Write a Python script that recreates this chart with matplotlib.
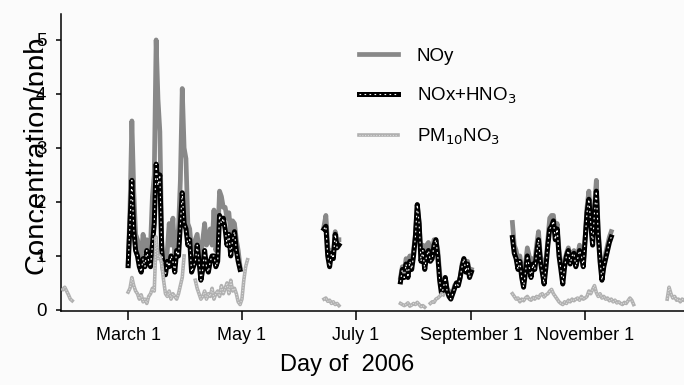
import matplotlib
matplotlib.use("Agg")
import matplotlib.pyplot as plt
from matplotlib.transforms import Bbox, TransformedBbox
import numpy as np

plt.rcParams['font.family'] = ['Liberation Sans', 'DejaVu Sans']

# daily values (ppb), one list per run of measurements; first day of year of each run
gas_starts = [60, 165, 206, 266]
noy_runs = [
    [0.85, 1.9, 3.5, 2.2, 1.4, 1.3, 1.1, 1.0, 1.4, 1.1, 1.3, 1.0, 1.2, 2.1, 2.5, 5.0,
     3.9, 3.3, 1.3, 0.8, 0.75, 1.1, 1.6, 1.2, 1.7, 1.0, 1.3, 1.5, 2.4, 4.1, 3.0, 2.8,
     1.6, 1.5, 1.1, 1.2, 1.3, 1.4, 1.1, 1.0, 1.3, 1.6, 1.2, 1.3, 1.5, 1.2, 1.85, 1.1,
     1.3, 2.2, 2.1, 1.9, 1.9, 1.7, 1.8, 1.4, 1.65, 1.6, 1.3, 1.1, 0.8],
    [1.55, 1.75, 1.2, 0.9, 1.1, 1.05, 1.45, 1.3, 1.3],
    [0.6, 0.8, 0.7, 0.95, 0.9, 1.0, 0.85, 1.1, 1.4, 1.95, 1.6, 0.95, 1.2, 0.85, 1.2,
     1.25, 1.0, 1.05, 1.3, 1.3, 1.1, 0.7, 0.35, 0.5, 0.6, 0.4, 0.35, 0.3, 0.3, 0.45,
     0.5, 0.5, 0.6, 0.85, 0.95, 0.75, 0.9, 0.65, 0.75],
    [1.62, 1.2, 1.1, 0.9, 1.0, 0.75, 0.5, 0.85, 1.15, 1.0, 0.85, 0.95, 0.9, 1.2, 1.45,
     1.0, 0.9, 0.6, 0.9, 1.3, 1.7, 1.75, 1.75, 1.4, 1.6, 1.1, 0.85, 0.6, 0.9, 1.05,
     1.15, 0.95, 1.05, 1.1, 0.85, 1.0, 1.2, 1.0, 0.85, 1.35, 1.9, 2.2, 1.7, 1.3, 1.9,
     2.4, 1.5, 1.0, 0.6, 0.85, 1.05, 1.2, 1.35, 1.45],
]
noxhno3_runs = [
    [0.82, 1.6, 2.4, 1.5, 1.1, 1.0, 0.8, 0.7, 0.95, 0.8, 1.1, 0.9, 0.8, 1.2, 1.6, 2.7,
     2.3, 2.5, 1.1, 0.7, 0.65, 0.9, 0.8, 1.0, 0.9, 0.7, 1.1, 1.0, 1.6, 2.17, 1.6, 1.5,
     1.2, 1.3, 0.7, 0.8, 0.9, 1.2, 0.9, 0.55, 0.75, 1.1, 0.8, 0.7, 0.9, 1.0, 1.0, 0.8,
     0.9, 1.75, 1.6, 1.7, 1.5, 1.2, 1.4, 1.0, 1.3, 1.45, 1.1, 0.9, 0.75],
    [1.5, 1.55, 1.0, 0.8, 1.05, 0.95, 1.4, 1.15, 1.2],
    [0.52, 0.75, 0.6, 0.85, 0.6, 0.9, 0.75, 1.0, 1.35, 1.95, 1.6, 0.9, 1.1, 0.75, 1.0,
     1.1, 0.9, 0.95, 1.2, 1.3, 1.0, 0.55, 0.3, 0.4, 0.6, 0.35, 0.25, 0.2, 0.3, 0.4,
     0.5, 0.45, 0.6, 0.8, 0.95, 0.7, 0.85, 0.6, 0.7],
    [1.34, 1.05, 0.95, 0.75, 0.9, 0.6, 0.42, 0.7, 1.0, 0.8, 0.6, 0.85, 0.75, 1.05, 1.3,
     0.9, 0.7, 0.48, 0.8, 1.2, 1.5, 1.55, 1.65, 1.3, 1.5, 1.0, 0.75, 0.48, 0.8, 1.0,
     1.1, 0.85, 1.0, 1.05, 0.8, 0.95, 1.1, 1.0, 0.8, 1.3, 1.8, 2.05, 1.6, 1.2, 1.8,
     2.2, 1.4, 0.9, 0.55, 0.8, 0.95, 1.1, 1.25, 1.35],
]
pm_starts = [25, 60, 96, 165, 206, 222, 266, 349]
pm10no3_runs = [
    [0.38, 0.42, 0.35, 0.28, 0.2, 0.17],
    [0.33, 0.4, 0.6, 0.45, 0.35, 0.3, 0.2, 0.28, 0.15, 0.2, 0.12, 0.25, 0.3, 0.4, 0.35,
     1.35, 0.95, 1.0, 0.85, 0.55, 0.3, 0.25, 0.35, 0.2, 0.3, 0.25, 0.2, 0.3, 0.45, 0.6,
     1.0],
    [0.55, 0.4, 0.3, 0.2, 0.25, 0.35, 0.2, 0.3, 0.25, 0.4, 0.2, 0.3, 0.35, 0.25, 0.45,
     0.3, 0.4, 0.5, 0.3, 0.55, 0.35, 0.4, 0.3, 0.15, 0.1, 0.2, 0.55, 0.8, 0.93],
    [0.2, 0.22, 0.16, 0.18, 0.12, 0.15, 0.1, 0.12, 0.08],
    [0.12, 0.1, 0.08, 0.1, 0.13, 0.07, 0.09, 0.12, 0.1, 0.14, 0.1, 0.06, 0.08, 0.05],
    [0.12, 0.15, 0.14, 0.2, 0.22, 0.25, 0.3, 0.28],
    [0.3, 0.25, 0.2, 0.22, 0.15, 0.2, 0.17, 0.22, 0.25, 0.2, 0.18, 0.23, 0.2, 0.25, 0.22,
     0.28, 0.3, 0.24, 0.28, 0.3, 0.35, 0.38, 0.3, 0.25, 0.2, 0.15, 0.12, 0.1, 0.15, 0.12,
     0.18, 0.15, 0.2, 0.17, 0.2, 0.22, 0.18, 0.25, 0.2, 0.22, 0.25, 0.35, 0.3, 0.38, 0.45,
     0.32, 0.25, 0.3, 0.22, 0.25, 0.2, 0.22, 0.17, 0.2, 0.15, 0.18, 0.13, 0.15, 0.12, 0.1,
     0.14, 0.12, 0.17, 0.22, 0.18, 0.1],
    [0.2, 0.42, 0.3, 0.22, 0.25, 0.18, 0.2, 0.15, 0.2, 0.18],
]
tick_days = [60, 121, 182, 244, 305]
tick_names = ['March 1', 'May 1', 'July 1', 'September 1', 'November 1']


def join_runs(starts, runs):
    # one series with NaN between the runs so the gaps stay open
    xs, ys = [], []
    for s, r in zip(starts, runs):
        xs += list(range(s, s + len(r))) + [np.nan]
        ys += list(r) + [np.nan]
    return np.array(xs, float), np.array(ys, float)


noy_x, noy_y = join_runs(gas_starts, noy_runs)
nox_x, nox_y = join_runs(gas_starts, noxhno3_runs)
pm_x, pm_y = join_runs(pm_starts, pm10no3_runs)

bg = '#fbfbfb'
fig = plt.figure(figsize=(6.84, 3.85), dpi=100, facecolor=bg)
ax = fig.add_axes([61 / 684, 1 - 311 / 385, 623 / 684, 297 / 385])
ax.set_facecolor(bg)

l_noy, = ax.plot(noy_x, noy_y, color='#888888', lw=3.4, zorder=2)
l_nox, = ax.plot(nox_x, nox_y, color='black', lw=3.6, zorder=3)
l_nox2, = ax.plot(nox_x, nox_y, color='white', lw=0.8, dashes=(1.5, 3.0), zorder=4)
l_pm, = ax.plot(pm_x, pm_y, color='#b0b0b0', lw=2.6, zorder=5)
l_pm2, = ax.plot(pm_x, pm_y, color='#dcdcdc', lw=0.8, dashes=(1.0, 1.5), zorder=6)

ax.set_xlim(24, 358)
ax.set_ylim(-0.02, 5.48)
ax.set_yticks(range(6))
ax.set_xticks(tick_days)
ax.set_xticklabels(tick_names)
ax.tick_params(axis='y', direction='out', length=3.6, width=1.1, pad=7, labelsize=13.5)
ax.tick_params(axis='x', direction='out', length=6.5, width=1.1, pad=5, labelsize=13)
for side in ['top', 'right']:
    ax.spines[side].set_visible(False)
for side in ['left', 'bottom']:
    ax.spines[side].set_linewidth(1.1)

ax.set_xlabel('Day of  2006', fontsize=17)
ax.xaxis.set_label_coords(0.459, -0.145)

# y label sits behind the tick labels and is cut off at their edge
ylab = fig.text(44.5 / 684, 1 - 155 / 385, 'Concentration/ppb', rotation=90,
                rotation_mode='anchor', ha='center', va='baseline', fontsize=21,
                zorder=-1)
ylab.set_clip_box(TransformedBbox(Bbox([[0, 0], [43 / 684, 1]]), fig.transFigure))

ax.legend([l_noy, (l_nox, l_nox2), (l_pm, l_pm2)],
          ['NOy', 'NOx+HNO$_3$', 'PM$_{10}$NO$_3$'],
          loc='upper left', bbox_to_anchor=(0.478, 0.886), frameon=False,
          fontsize=13.5, handlelength=2.1, handletextpad=1.0, labelspacing=1.1,
          borderpad=0, borderaxespad=0)

fig.savefig('out.png', dpi=100, facecolor=fig.get_facecolor())
